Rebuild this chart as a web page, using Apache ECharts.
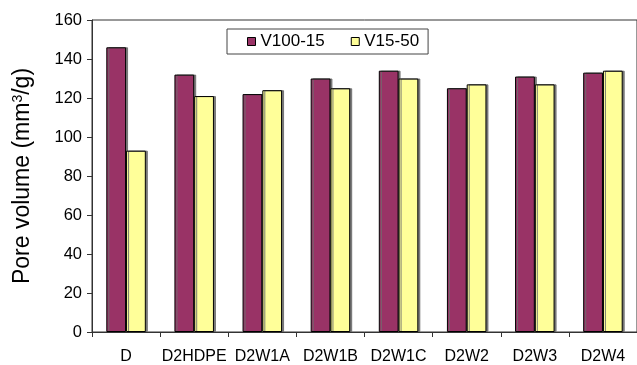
<!DOCTYPE html>
<html>
<head>
<meta charset="utf-8">
<script src="https://cdn.jsdelivr.net/npm/echarts@6/dist/echarts.min.js"></script>
<style>
html,body{margin:0;padding:0;background:#fff;}
#chart{width:637px;height:365px;}
</style>
</head>
<body>
<div id="chart"></div>
<script>
const categories = ['D', 'D2HDPE', 'D2W1A', 'D2W1B', 'D2W1C', 'D2W2', 'D2W3', 'D2W4'];
const v100_15 = [146, 132, 122, 130, 134, 125, 131, 133];
const v15_50 = [93, 121, 124, 125, 130, 127, 127, 134];
const yTicks = {min: 0, max: 160, interval: 20};

const chart = echarts.init(document.getElementById('chart'), null, {renderer: 'canvas'});
const font = 'Arial, "Liberation Sans", sans-serif';
const barStyle = (color) => ({
  color: color,
  borderColor: '#000',
  borderWidth: 1,
  shadowColor: 'rgba(110,110,110,0.9)',
  shadowBlur: 0,
  shadowOffsetX: 2,
  shadowOffsetY: 0
});
chart.setOption({
  animation: false,
  backgroundColor: '#fff',
  textStyle: {fontFamily: font},
  grid: {left: 92, top: 20, right: -7, bottom: 29, show: true, borderColor: '#333', borderWidth: 1},
  legend: {
    left: 227, top: 29,
    backgroundColor: '#fff',
    borderColor: '#444', borderWidth: 1, borderRadius: 0,
    padding: [4, 9, 4, 20],
    itemGap: 26,
    itemWidth: 8, itemHeight: 8,
    icon: 'rect',
    textStyle: {fontSize: 17, color: '#000', fontFamily: font},
    data: [
      {name: 'V100-15', itemStyle: {borderColor: '#000', borderWidth: 1, shadowOffsetX: 0}},
      {name: 'V15-50', itemStyle: {borderColor: '#000', borderWidth: 1, shadowOffsetX: 0}}
    ]
  },
  xAxis: {
    type: 'category',
    data: categories,
    axisLine: {lineStyle: {color: '#333', width: 1}},
    axisTick: {show: true, length: 5, lineStyle: {color: '#333'}},
    axisLabel: {color: '#000', fontSize: 16, margin: 17, fontFamily: font, interval: 0}
  },
  yAxis: {
    type: 'value',
    min: yTicks.min, max: yTicks.max, interval: yTicks.interval,
    name: 'Pore volume (mm{sup|3}/g)',
    nameLocation: 'middle',
    nameGap: 57,
    nameTextStyle: {fontSize: 23, color: '#000', fontFamily: font,
      rich: {sup: {fontSize: 14, verticalAlign: 'top', padding: [0, 0, 10, 0], fontFamily: font, color: '#000'}}},
    splitLine: {show: false},
    axisLine: {show: true, lineStyle: {color: '#333', width: 1}},
    axisTick: {show: true, length: 5, inside: false, lineStyle: {color: '#333'}},
    axisLabel: {color: '#000', fontSize: 16.5, margin: 10, fontFamily: font}
  },
  series: [
    {name: 'V100-15', type: 'bar', data: v100_15, barGap: '0%', barCategoryGap: '42%', itemStyle: barStyle('#993366')},
    {name: 'V15-50', type: 'bar', data: v15_50, barGap: '0%', barCategoryGap: '42%', itemStyle: barStyle('#FFFF99')}
  ]
});
</script>
</body>
</html>
